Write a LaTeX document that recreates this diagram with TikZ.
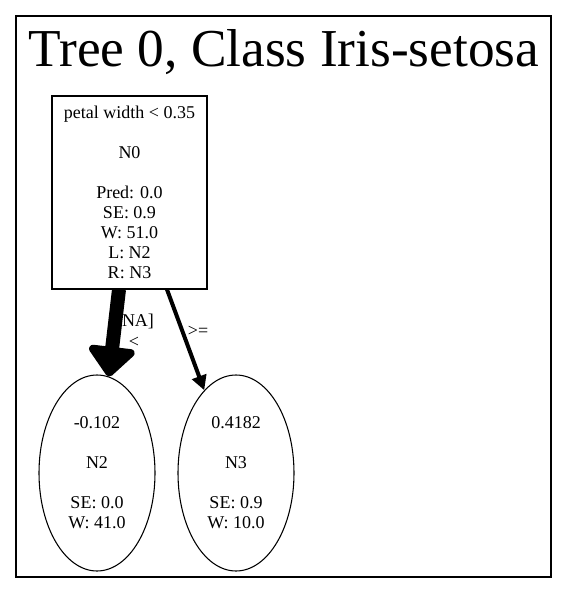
\documentclass[tikz,border=0pt]{standalone}
\usepackage{fontspec}
\setmainfont{Liberation Serif}
\usetikzlibrary{shapes.geometric,arrows.meta,calc}
\begin{document}
\begin{tikzpicture}[x=0.75pt,y=-0.75pt,
  txt/.style={font=\fontsize{13.5}{15}\selectfont,align=center,inner sep=0pt},
  boxnode/.style={txt,draw,line width=0.8pt,minimum width=116.25pt,minimum height=144.75pt},
  leafnode/.style={txt,draw,ellipse,line width=0.8pt,minimum width=87pt,minimum height=147pt},
  edgelabel/.style={txt}
]
\useasboundingbox (0,0) rectangle (567,593);
\node[draw,line width=0.8pt,minimum width=401.25pt,minimum height=420.75pt,inner sep=0pt] (frame) at (283.5,296.5) {};
\node[inner sep=0pt,anchor=base,font=\fontsize{40}{44}\selectfont] (title) at (284,66) {Tree 0, Class Iris-setosa};
\node[boxnode] (n0) at (129.5,192.5) {petal width \textless{} 0.35\\[15pt]N0\\[15pt]Pred: 0.0\\SE: 0.9\\W: 51.0\\L: N2\\R: N3};
\node[leafnode] (n2) at (97,473) {-0.102\\[15pt]N2\\[15pt]SE: 0.0\\W: 41.0};
\node[leafnode] (n3) at (236,473) {0.4182\\[15pt]N3\\[15pt]SE: 0.9\\W: 10.0};
\node[edgelabel] (l1) at (135,321) {[NA]};
\node[edgelabel] (l2) at (134,342) {\textless};
\node[edgelabel] (l3) at (198,331) {\textgreater=};
\draw[line width=10.5pt,-{Triangle[length=24pt,width=40pt,round]}] ($(n0.south)+(-10.5,0)$) -- (n2.83);
\draw[line width=3pt,-{Triangle[length=11pt,width=11pt]}] ($(n0.south)+(37.5,0)$) -- (n3.111);
\end{tikzpicture}
\end{document}
